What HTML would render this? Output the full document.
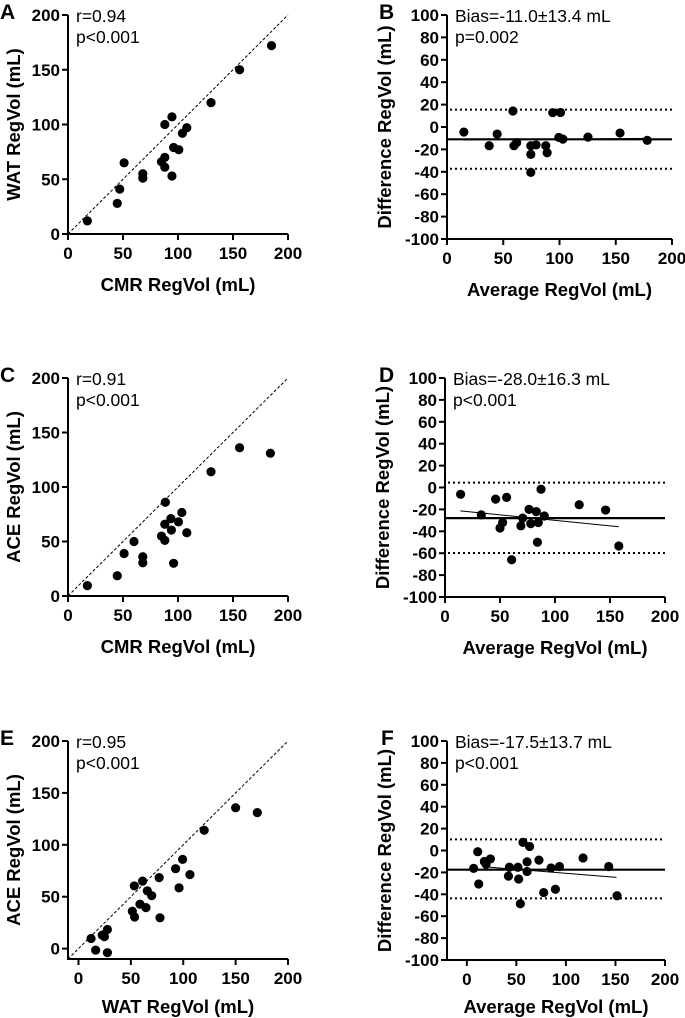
<!DOCTYPE html>
<html><head><meta charset="utf-8">
<style>
html,body{margin:0;padding:0;background:#fff;}
svg{display:block;font-family:"Liberation Sans",Arial,sans-serif;}
.tk{font-size:17px;font-weight:bold;fill:#000;}
.tt{font-size:18.5px;font-weight:bold;fill:#000;}
.an{font-size:17.5px;fill:#000;}
.pl{font-size:21px;font-weight:bold;fill:#000;}
</style></head>
<body>
<svg id="chart" width="685" height="1018" viewBox="0 0 685 1018" xmlns="http://www.w3.org/2000/svg"></svg>
<script>
// Panel A: CMR vs WAT
const aX=[17.6,44.8,47,51,68,68,85,88,88,88,94.5,94.5,96,100.7,104,108,130,156,185];
const aY=[12,28,41,65,55,51,66,70,61,100,107,53,79,77,92,97,120,150,172];
// Panel B: Bland-Altman WAT-CMR
const bX=[15,37.5,44.6,58.6,59.5,61.9,74.5,74.5,74.5,79.2,87.8,89,94,100.9,99.4,103,125.3,153.8,178];
const bY=[-4.5,-16.7,-6.3,14.3,-16.7,-14,-16.7,-24.4,-40.5,-16,-16.7,-23,12.8,13,-9.3,-10.8,-9,-5.4,-11.9];
const bLines=[-11.0,15.5,-37.3]; const bReg=[15,-11.5,178,-10.2];
// Panel C: CMR vs ACE
const cX=[17.6,44.8,51,60,68,68,85,88,88,88.5,93.5,94,96,100.4,103.5,108,130,156,184];
const cY=[9.5,18.6,39,50,36,30.5,55,65.8,51,86,71,60.5,30,68,76.6,58,114,136,131];
// Panel D: Bland-Altman ACE-CMR
const dX=[14.2,33,46,56,50,52.4,60.6,69,70.6,76.4,78,83,84.8,84,87.3,90.3,122,146,158];
const dY=[-6.2,-25,-10.6,-9,-37,-32,-66,-35,-28,-20,-33,-22,-32,-50,-1.6,-26,-15.7,-20.6,-53.4];
const dLines=[-28.0,4.4,-59.8]; const dReg=[14,-21.3,158,-35.8];
// Panel E: WAT vs ACE
const eX=[12,16.4,22.7,24.7,27.6,27.6,51.4,53.6,53.3,58.7,61.2,64.4,65.7,69.9,77,77.8,92.7,96,99.4,106.4,120,150,170.7];
const eY=[9.8,-1.4,13,11.5,18.4,-3.9,36,30.5,60.4,42.8,65,39.5,55.6,51,68.4,29.7,77,58.5,86,71.3,114,135.7,131];
// Panel F: Bland-Altman ACE-WAT
const fX=[6.9,11,12,17.7,19.4,23.8,42,43,51.6,52.3,54,56.7,63.4,60.8,60.8,72.8,77.6,85,89.4,93.5,117.3,143.2,151.6];
const fY=[-16.3,-1.1,-30.6,-10,-12.5,-7.7,-23.4,-15.3,-15.3,-26,-48.6,7.4,3.7,-10.4,-19.2,-8.8,-38.4,-16,-35.4,-14.6,-6.8,-14.6,-41.3];
const fLines=[-17.5,10.2,-43.7]; const fReg=[17,-14.8,151,-24.5];

const scatterTicks=[0,50,100,150,200];
const baYTicks=[100,80,60,40,20,0,-20,-40,-60,-80,-100];
const baXTicks=[0,50,100,150,200];

const NS="http://www.w3.org/2000/svg";
const svg=document.getElementById('chart');
function mk(tag,attrs,parent){const e=document.createElementNS(NS,tag);for(const k in attrs)e.setAttribute(k,attrs[k]);(parent||svg).appendChild(e);return e;}
function txt(s,attrs,parent){const e=mk('text',attrs,parent);e.textContent=s;return e;}

function panel(c){
  const g=mk('g',{});
  
  
  const sx=v=>c.px0+(v-c.xmin)/(c.xmax-c.xmin)*(c.px1-c.px0);
  const sy=v=>c.py0-(v-c.ymin)/(c.ymax-c.ymin)*(c.py0-c.py1);
  const ya=mk('line',{x1:c.px0,y1:c.py1,x2:c.px0,y2:c.py0,stroke:'#000','stroke-width':2},g);
  
  
  const xa=mk('line',{x1:c.px0-1,y1:c.py0,x2:c.px1,y2:c.py0,stroke:'#000','stroke-width':2},g);
  
  
  c.yticks.forEach(v=>{
    mk('line',{x1:c.px0-6,y1:sy(v),x2:c.px0,y2:sy(v),stroke:'#000','stroke-width':2},g);
    const t=txt(String(v),{x:c.px0-8,y:sy(v)+6,'text-anchor':'end',class:'tk'},g);
    
    
  });
  c.xticks.forEach(v=>{
    mk('line',{x1:sx(v),y1:c.py0,x2:sx(v),y2:c.py0+6,stroke:'#000','stroke-width':2},g);
    const t=txt(String(v),{x:sx(v),y:c.py0+25,'text-anchor':'middle',class:'tk'},g);
    
    
  });
  if(c.identity){
    const l=mk('line',{x1:sx(c.xmin),y1:sy(c.xmin),x2:sx(200),y2:sy(200),stroke:'#000','stroke-width':1,'stroke-dasharray':'3,2'},g);
    
    
  }
  if(c.lines){
    const b=mk('line',{x1:c.px0,y1:sy(c.lines[0]),x2:c.px1,y2:sy(c.lines[0]),stroke:'#000','stroke-width':2.2},g);
    
    
    [1,2].forEach(i=>{
      const d=mk('line',{x1:c.px0+3,y1:sy(c.lines[i]),x2:c.px1,y2:sy(c.lines[i]),stroke:'#000','stroke-width':2,'stroke-dasharray':'2,3'},g);
      
      
    });
    const r=mk('line',{x1:sx(c.reg[0]),y1:sy(c.reg[1]),x2:sx(c.reg[2]),y2:sy(c.reg[3]),stroke:'#000','stroke-width':1},g);
    
    
  }
  c.xs.forEach((v,i)=>{
    const p=mk('circle',{cx:sx(v),cy:sy(c.ys[i]),r:4.6,fill:'#000'},g);
    
    
  });
  const xt=txt(c.xtitle,{x:(c.px0+c.px1)/2,y:c.py0+c.xty,'text-anchor':'middle',class:'tt'},g);
  
  
  const cy=(c.py0+c.py1)/2;
  const yt=txt(c.ytitle,{x:c.ytx,y:cy,'text-anchor':'middle',class:'tt',transform:'rotate(-90 '+c.ytx+' '+cy+')',dy:6},g);
  
  
  const pl=txt(c.id,{x:c.lx,y:c.py1+4,class:'pl'},g);
  
  
  const a1=txt(c.ann[0],{x:c.px0+8,y:c.py1+7,class:'an'},g);
  
  
  const a2=txt(c.ann[1],{x:c.px0+8,y:c.py1+28,class:'an'},g);
  
  
}

panel({id:'A',xs:aX,ys:aY,px0:68,px1:288,xmin:0,xmax:200,py0:234,py1:15,ymin:0,ymax:200,xticks:scatterTicks,yticks:scatterTicks,identity:true,xtitle:'CMR RegVol (mL)',ytitle:'WAT RegVol (mL)',xty:57,ytx:14,lx:0,ann:['r=0.94','p<0.001']});
panel({id:'B',xs:bX,ys:bY,px0:447,px1:672,xmin:0,xmax:200,py0:239,py1:15,ymin:-100,ymax:100,xticks:baXTicks,yticks:baYTicks,lines:bLines,reg:bReg,xtitle:'Average RegVol (mL)',ytitle:'Difference RegVol (mL)',xty:57,ytx:385,lx:379,ann:['Bias=-11.0\u00b113.4 mL','p=0.002']});
panel({id:'C',xs:cX,ys:cY,px0:68,px1:288,xmin:0,xmax:200,py0:596,py1:378,ymin:0,ymax:200,xticks:scatterTicks,yticks:scatterTicks,identity:true,xtitle:'CMR RegVol (mL)',ytitle:'ACE RegVol (mL)',xty:57,ytx:14,lx:0,ann:['r=0.91','p<0.001']});
panel({id:'D',xs:dX,ys:dY,px0:445,px1:665,xmin:0,xmax:200,py0:597,py1:378,ymin:-100,ymax:100,xticks:baXTicks,yticks:baYTicks,lines:dLines,reg:dReg,xtitle:'Average RegVol (mL)',ytitle:'Difference RegVol (mL)',xty:57,ytx:383,lx:379,ann:['Bias=-28.0\u00b116.3 mL','p<0.001']});
panel({id:'E',xs:eX,ys:eY,px0:68,px1:288,xmin:-10,xmax:200,py0:959,py1:741,ymin:-10,ymax:200,xticks:scatterTicks,yticks:scatterTicks,identity:true,xtitle:'WAT RegVol (mL)',ytitle:'ACE RegVol (mL)',xty:54,ytx:14,lx:0,ann:['r=0.95','p<0.001']});
panel({id:'F',xs:fX,ys:fY,px0:447,px1:665,xmin:-20,xmax:200,py0:960,py1:741,ymin:-100,ymax:100,xticks:baXTicks,yticks:baYTicks,lines:fLines,reg:fReg,xtitle:'Average RegVol (mL)',ytitle:'Difference RegVol (mL)',xty:53,ytx:385,lx:381,ann:['Bias=-17.5\u00b113.7 mL','p<0.001']});
</script>
</body></html>
